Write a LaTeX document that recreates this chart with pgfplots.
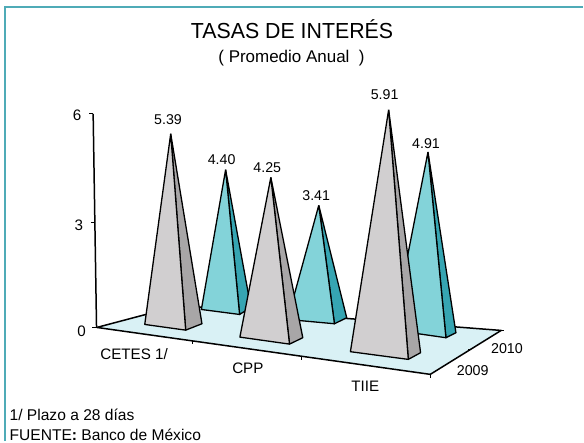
\documentclass[border=0pt]{standalone}
\usepackage{pgfplots}
\usepackage{fontspec}
\setmainfont{Liberation Sans}
\pgfplotsset{compat=1.18}
\definecolor{lgray}{HTML}{D1CFD0}
\definecolor{dgray}{HTML}{A8A6A7}
\definecolor{lteal}{HTML}{83D3D9}
\definecolor{dteal}{HTML}{36A5B2}
\definecolor{floorc}{HTML}{D9F1F5}
\definecolor{framec}{HTML}{4FABB7}
\pgfplotstableread{
x y label
168.3 120 5.39
222 160 4.40
267.7 168.3 4.25
316.7 196 3.41
385.3 95 5.91
426.7 144 4.91
}\vals
\newcommand{\face}[2]{\addplot[fill=#1,draw=black,line width=1.3pt,line join=round] coordinates {#2};}
\begin{document}
\begin{tikzpicture}
\begin{axis}[
  scale only axis, width=584pt, height=442pt,
  xmin=0, xmax=584, ymin=0, ymax=442, y dir=reverse,
  hide axis, clip=false,
]
\path (axis cs:0,0) rectangle (axis cs:584,442);
% frame
\addplot[draw=framec,line width=2pt] coordinates {(5.5,442) (5.5,7.5) (584,7.5)};
% floor
\addplot[fill=floorc,draw=black,line width=1.5pt,line join=round] coordinates {(97,328) (431,375) (502,331) (180,306) (97,328)};
% y axis and ticks
\addplot[draw=black,line width=1.5pt] coordinates {(93.3,114) (96.7,328)};
\addplot[draw=black,line width=1pt] coordinates {(89.5,114) (93.3,114)};
\addplot[draw=black,line width=1pt] coordinates {(91,222.5) (95,222.5)};
\addplot[draw=black,line width=1pt] coordinates {(92.5,328) (97,328)};
% floor ticks
\addplot[draw=black,line width=.8pt] coordinates {(193,341.5) (193,345)};
\addplot[draw=black,line width=.8pt] coordinates {(302,357) (302,360.5)};
\addplot[draw=black,line width=.8pt] coordinates {(431,375) (431,378.5)};
\addplot[draw=black,line width=.8pt] coordinates {(469,350) (472,350)};
\addplot[draw=black,line width=.8pt] coordinates {(502,331) (504.5,331)};
% 2010 pyramids
\face{dteal}{(226,170) (240,315) (251.3,308) (226,170)}
\face{lteal}{(226,170) (201.7,310) (240,315) (226,170)}
\face{dteal}{(319.3,205.7) (335,324.3) (347.3,318.3) (319.3,205.7)}
\face{lteal}{(319.3,205.7) (288,320) (335,324.3) (319.3,205.7)}
\face{dteal}{(428.7,152.3) (446.7,338.3) (456.7,333.3) (428.7,152.3)}
\face{lteal}{(428.7,152.3) (393.7,330.7) (446.7,338.3) (428.7,152.3)}
% 2009 pyramids
\face{dgray}{(171,134) (186,330.7) (202.3,324.3) (171,134)}
\face{lgray}{(171,134) (145,325) (186,330.7) (171,134)}
\face{dgray}{(271.3,177.7) (290,344.7) (303.3,338.3) (271.3,177.7)}
\face{lgray}{(271.3,177.7) (240.3,337.7) (290,344.7) (271.3,177.7)}
\face{dgray}{(389.3,110) (409,360) (421.3,353.3) (389.3,110)}
\face{lgray}{(389.3,110) (351,352.3) (409,360) (389.3,110)}
% value labels
\addplot[draw=none, mark=none, nodes near coords, point meta=explicit symbolic,
  nodes near coords align={anchor=center},
  every node near coord/.append style={font=\fontsize{14.2}{15}\selectfont, inner sep=0pt, text=black}]
  table[x=x,y=y,meta=label] {\vals};
\node[anchor=base,inner sep=0pt,font=\fontsize{21.8}{24}\selectfont,xscale=.98] at (axis cs:292.5,38.3) {TASAS DE INTERÉS};
\node[anchor=base,inner sep=0pt,font=\fontsize{17}{18}\selectfont] at (axis cs:292,62.3) {(\;Promedio Anual\;\;)};
\begin{scope}[every node/.style={font=\fontsize{15.2}{16}\selectfont,inner sep=0pt}]
\node at (axis cs:77.3,115) {6};
\node at (axis cs:79,225.7) {3};
\node at (axis cs:81.7,331.7) {0};
\node at (axis cs:134.3,355) {CETES 1/};
\node at (axis cs:248.3,369.3) {CPP};
\node at (axis cs:366,386.7) {TIIE};
\node[font=\fontsize{14.3}{15}\selectfont] at (axis cs:473.5,371.7) {2009};
\node[font=\fontsize{14.3}{15}\selectfont] at (axis cs:507.8,349) {2010};
\node[anchor=base west,font=\fontsize{15.6}{16}\selectfont] at (axis cs:9.5,421.7) {1/ Plazo a 28 días};
\node[anchor=base west,font=\fontsize{15.6}{16}\selectfont] at (axis cs:9.5,441) {FUENTE\textbf{:} Banco de México};
\end{scope}
\end{axis}
\end{tikzpicture}
\end{document}
